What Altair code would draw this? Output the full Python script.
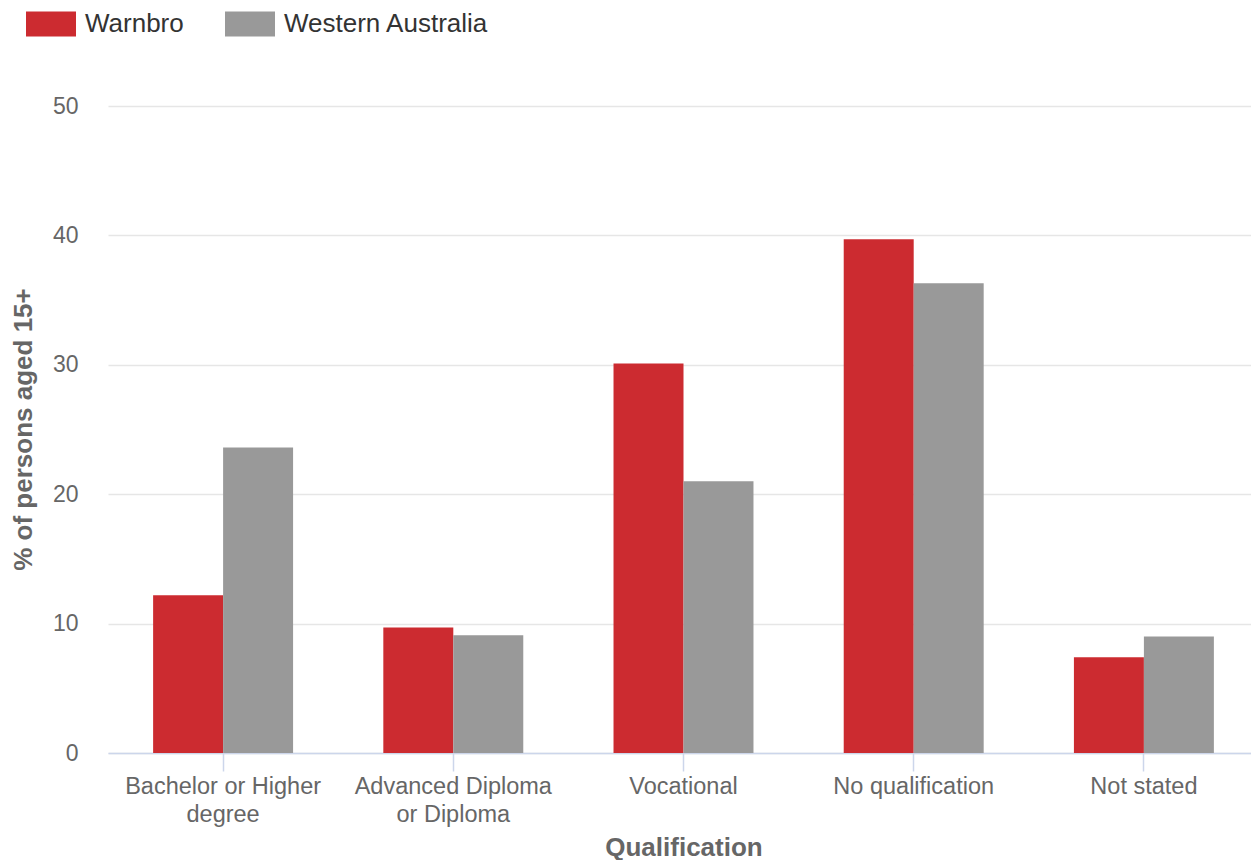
import altair as alt
import pandas as pd

categories = [
    "Bachelor or Higher degree",
    "Advanced Diploma or Diploma",
    "Vocational",
    "No qualification",
    "Not stated",
]
warnbro = [12.2, 9.7, 30.1, 39.7, 7.4]
western_australia = [23.6, 9.1, 21.0, 36.3, 9.0]
series = ["Warnbro", "Western Australia"]
colors = ["#cc2b30", "#999999"]

rows = []
for c, w, wa in zip(categories, warnbro, western_australia):
    rows.append({"Qualification": c, "Area": series[0], "Value": w})
    rows.append({"Qualification": c, "Area": series[1], "Value": wa})
df = pd.DataFrame(rows)

label_expr = (
    "datum.label == 'Bachelor or Higher degree' ? ['Bachelor or Higher', 'degree'] : "
    "datum.label == 'Advanced Diploma or Diploma' ? ['Advanced Diploma', 'or Diploma'] : datum.label"
)

FONT = "Liberation Sans"

chart = (
    alt.Chart(df)
    .mark_bar()
    .encode(
        x=alt.X(
            "Qualification:N",
            sort=categories,
            scale=alt.Scale(paddingInner=0.392, paddingOuter=0.196),
            axis=alt.Axis(
                title="Qualification",
                labelAngle=0,
                labelExpr=label_expr,
                labelFont=FONT,
                labelFontSize=23.5,
                labelColor="#666666",
                labelLineHeight=28,
                labelPadding=3,
                labelOverlap=False,
                labelLimit=400,
                labelBaseline="top",
                domainColor="#ccd6eb",
                domainWidth=1.5,
                tickColor="#ccd6eb",
                tickSize=18,
                tickWidth=1.5,
                grid=False,
                titleFont=FONT,
                titleFontSize=26,
                titleFontWeight="bold",
                titleColor="#666666",
                titleY=94,
                titleBaseline="middle",
            ),
        ),
        xOffset=alt.XOffset("Area:N", sort=series),
        y=alt.Y(
            "Value:Q",
            scale=alt.Scale(domain=[0, 50], nice=False),
            axis=alt.Axis(
                title="% of persons aged 15+",
                values=[0, 10, 20, 30, 40, 50],
                labelFont=FONT,
                labelFontSize=23,
                labelColor="#666666",
                labelPadding=30,
                domain=False,
                ticks=False,
                gridColor="#e6e6e6",
                gridWidth=1.5,
                titleFont=FONT,
                titleFontSize=26,
                titleFontWeight="bold",
                titleColor="#666666",
                titleX=-85,
                titleY=323,
                titleAngle=270,
                titleAlign="center",
                titleBaseline="middle",
            ),
        ),
        color=alt.Color(
            "Area:N",
            sort=series,
            scale=alt.Scale(domain=series, range=colors),
            legend=alt.Legend(
                title=None,
                orient="none",
                direction="horizontal",
                legendX=-82,
                legendY=-107,
                padding=0,
                symbolType="M-1,-0.5H1V0.5H-1Z",
                symbolSize=2500,
                symbolStrokeWidth=0,
                symbolOpacity=1,
                labelFont=FONT,
                labelFontSize=26,
                labelColor="#333333",
                labelOffset=9,
                labelLimit=400,
                columnPadding=41,
            ),
        ),
    )
    .properties(
        width=1151,
        height=647,
        autosize=alt.AutoSizeParams(type="none"),
        padding={"left": 100, "top": 98, "right": -8, "bottom": 107},
    )
    .configure_view(stroke=None)
)

chart.save("out.html", embed_options={"renderer": "svg", "actions": False})
